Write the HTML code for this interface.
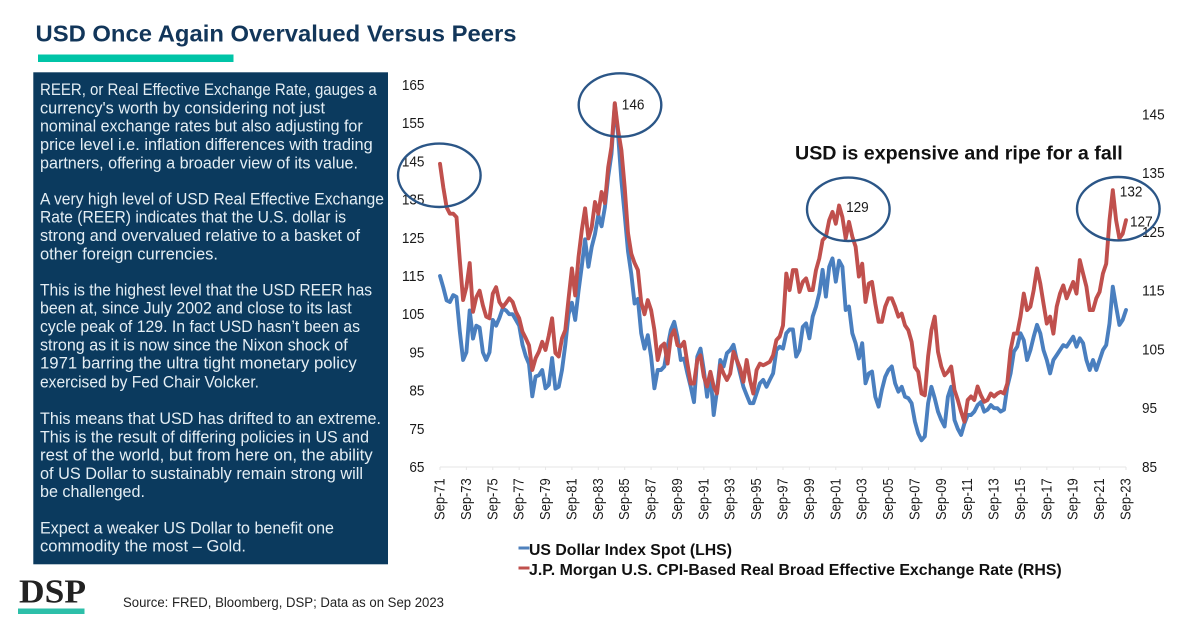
<!DOCTYPE html>
<html lang="en">
<head>
<meta charset="utf-8">
<title>USD Once Again Overvalued Versus Peers</title>
<style>
html,body{margin:0;padding:0;background:#fff;}
svg{display:block;font-family:"Liberation Sans",sans-serif;}
.p{font-size:17px;fill:#e4eef4;}
.t{font-size:14.5px;fill:#1a1a1a;}
.lg{font-size:16px;font-weight:bold;fill:#111;}
</style>
</head>
<body>
<svg id="slide" xmlns="http://www.w3.org/2000/svg" width="1200" height="628" viewBox="0 0 1200 628">
<rect width="1200" height="628" fill="#ffffff"/>
<text x="35.5" y="41.7" font-size="23.5" font-weight="bold" fill="#12365a" textLength="481" lengthAdjust="spacingAndGlyphs">USD Once Again Overvalued Versus Peers</text>
<rect x="38" y="54.5" width="195.500" height="7.500" fill="#00c4a7"/>
<rect x="33.300" y="72.300" width="354.700" height="492" fill="#0b3a5e"/>
<g>
<text class="p" x="40" y="95" textLength="336.700" lengthAdjust="spacingAndGlyphs">REER, or Real Effective Exchange Rate, gauges a</text>
<text class="p" x="40" y="113.300" textLength="285" lengthAdjust="spacingAndGlyphs">currency's worth by considering not just</text>
<text class="p" x="40" y="131.700" textLength="322.700" lengthAdjust="spacingAndGlyphs">nominal exchange rates but also adjusting for</text>
<text class="p" x="40" y="150" textLength="332.700" lengthAdjust="spacingAndGlyphs">price level i.e. inflation differences with trading</text>
<text class="p" x="40" y="168.300" textLength="318" lengthAdjust="spacingAndGlyphs">partners, offering a broader view of its value.</text>
<text class="p" x="40" y="204.500" textLength="344" lengthAdjust="spacingAndGlyphs">A very high level of USD Real Effective Exchange</text>
<text class="p" x="40" y="222.700" textLength="306" lengthAdjust="spacingAndGlyphs">Rate (REER) indicates that the U.S. dollar is</text>
<text class="p" x="40" y="241" textLength="320" lengthAdjust="spacingAndGlyphs">strong and overvalued relative to a basket of</text>
<text class="p" x="40" y="259.300" textLength="178" lengthAdjust="spacingAndGlyphs">other foreign currencies.</text>
<text class="p" x="40" y="295.300" textLength="332" lengthAdjust="spacingAndGlyphs">This is the highest level that the USD REER has</text>
<text class="p" x="40" y="313.700" textLength="311.700" lengthAdjust="spacingAndGlyphs">been at, since July 2002 and close to its last</text>
<text class="p" x="40" y="332" textLength="320" lengthAdjust="spacingAndGlyphs">cycle peak of 129. In fact USD hasn’t been as</text>
<text class="p" x="40" y="350.300" textLength="307.700" lengthAdjust="spacingAndGlyphs">strong as it is now since the Nixon shock of</text>
<text class="p" x="40" y="368.700" textLength="316.700" lengthAdjust="spacingAndGlyphs">1971 barring the ultra tight monetary policy</text>
<text class="p" x="40" y="387.300" textLength="219" lengthAdjust="spacingAndGlyphs">exercised by Fed Chair Volcker.</text>
<text class="p" x="40" y="424" textLength="341" lengthAdjust="spacingAndGlyphs">This means that USD has drifted to an extreme.</text>
<text class="p" x="40" y="442.300" textLength="329" lengthAdjust="spacingAndGlyphs">This is the result of differing policies in US and</text>
<text class="p" x="40" y="460.700" textLength="332.700" lengthAdjust="spacingAndGlyphs">rest of the world, but from here on, the ability</text>
<text class="p" x="40" y="479" textLength="323" lengthAdjust="spacingAndGlyphs">of US Dollar to sustainably remain strong will</text>
<text class="p" x="40" y="497" textLength="105" lengthAdjust="spacingAndGlyphs">be challenged.</text>
<text class="p" x="40" y="533.300" textLength="294" lengthAdjust="spacingAndGlyphs">Expect a weaker US Dollar to benefit one</text>
<text class="p" x="40" y="551.700" textLength="206" lengthAdjust="spacingAndGlyphs">commodity the most – Gold.</text>
</g>
<g id="chart"></g>
<text x="795" y="159.300" font-size="19" font-weight="bold" fill="#111" textLength="327.700" lengthAdjust="spacingAndGlyphs">USD is expensive and ripe for a fall</text>
<rect x="518.500" y="546.500" width="11" height="3" fill="#4f81bd"/>
<text class="lg" x="529" y="555" textLength="203" lengthAdjust="spacingAndGlyphs">US Dollar Index Spot (LHS)</text>
<rect x="518.500" y="566.500" width="11" height="3" fill="#c0504d"/>
<text class="lg" x="529" y="575" textLength="532.700" lengthAdjust="spacingAndGlyphs">J.P. Morgan U.S. CPI-Based Real Broad Effective Exchange Rate (RHS)</text>
<text x="19" y="602.700" font-family="'Liberation Serif',serif" font-size="34" font-weight="bold" fill="#222" textLength="67" lengthAdjust="spacingAndGlyphs">DSP</text>
<rect x="18" y="608.500" width="66.500" height="5.500" fill="#2dbfa9"/>
<text x="123" y="607" font-size="13.500" fill="#222" textLength="321" lengthAdjust="spacingAndGlyphs">Source: FRED, Bloomberg, DSP; Data as on Sep 2023</text>
</svg>
<script>
// Quarterly samples, Sep-71 to Sep-23
const dollarIndex = [
115,112,108.6,108.2,110,109.5,100.5,93,95,106,
98.6,102,101.5,95,93,95,103.5,102,104,106.5,
106,105,105,103.5,102,97,94,92,83.5,88.7,
89,90.4,85.6,86.5,93.5,85.5,86,90.4,97,105,
108,103.5,111,117.6,124.6,117.4,122.6,126,131,128,
133,141,147,160,152,140,131,121.5,115.5,107.8,
109,100,96,99.5,93.9,85.6,90.4,90.4,91.3,96.5,
100.9,103,99,93,93.4,89.5,86,82,93.9,96,
90.4,83.4,89.5,78.6,85,93,91.3,94.8,95.6,97,
93,89.5,86,83.8,81.7,81.7,84.3,86.9,87.8,86,
87.8,89.5,95.6,96.5,96,100,101,101,93.9,95.6,
101.7,102.6,98.7,104.4,107,110.5,116.6,109.6,117.4,119.6,
113.5,119,117.4,106.1,107,100,97.4,93.4,97.4,86.9,
89.5,90,83.4,80.8,85.2,88.6,90.4,91.3,86.9,84.7,
86,83.4,83,81.7,76.9,73.8,72,73,81.7,86,
83,79.5,77.3,75.6,83.4,86,77.3,75,73.4,76.4,
78.6,78.6,79.5,81.2,82,79.5,80,81.2,80.4,80.4,
79.5,80,86,89.5,95.2,96.5,100,98.2,93,95.6,
99.1,102.2,100,95.6,93,89.5,93,94.3,95.6,96.9,
96.5,97.8,99.1,96.5,98.7,97.4,93,90.4,93,90.4,
93,95.6,96.9,102.6,112.2,107,102.2,103.5,106.1
];
const reerIndex = [
136.6,132.6,129.2,128.1,128.1,127.5,120.2,113.4,115.6,119.7,
111.4,113.9,115,112.5,110.6,110.3,114.5,115.6,113.1,112.2,
112.9,113.7,113.1,111.4,110.3,108,106.9,105.7,101.5,103.5,
104.6,106.3,104.9,107.4,110.3,104.4,103.8,106.9,108.3,113.7,
118.8,114.2,120.7,125.3,129,123.9,125.8,130.1,128.1,131.8,
129.9,136,139.5,146.9,142.3,138.9,132.6,124.8,121.3,119.7,
118.5,113,111,113.4,111.7,108.3,103.2,105.5,106,102.6,
107.2,108.3,105.7,105.5,106.3,102.6,99.2,99.2,103.2,104,
100.4,98.7,101.2,98.7,97.5,102.3,100.9,99.8,100.9,104.6,
103.2,101.8,99.5,103.2,99.8,97.5,101.5,102.6,102.3,102.6,
102.9,104,106.6,107.2,109.1,117.9,115.1,118.5,118.5,114.8,
116.5,117.1,115.1,115.1,118.5,120.5,123.6,124.2,127,128.4,
126.4,129.5,127.5,123.9,126.7,124.2,122.5,117.4,119.6,113.1,
116.2,116.5,112.8,109.7,109.7,112.3,113.7,113.7,112.3,110.6,
111.1,109.1,108.3,106.3,102,101.2,97.5,97.2,103.8,108.3,
110.6,104.6,102.1,100.6,101.2,102.1,98.1,96.4,94.4,92.7,
96.4,97,96.4,98.7,97.2,96.1,96.4,97.5,97,97.5,
97.8,97.5,99.2,104.9,107.7,107.7,110.6,114.5,111.7,112.3,
115.1,118.8,116.2,112.8,109.4,110.6,107.7,112.3,114.5,115.9,
113.7,115.1,116.5,114.5,120.2,117.9,115.7,111.7,111.7,113.7,
114.8,117.9,119.6,127,132.1,127,123.9,124.7,127
];
const xTickLabels = ["Sep-71","Sep-73","Sep-75","Sep-77","Sep-79","Sep-81","Sep-83","Sep-85","Sep-87","Sep-89","Sep-91","Sep-93","Sep-95","Sep-97","Sep-99","Sep-01","Sep-03","Sep-05","Sep-07","Sep-09","Sep-11","Sep-13","Sep-15","Sep-17","Sep-19","Sep-21","Sep-23"];
const leftTicks = [65,75,85,95,105,115,125,135,145,155,165];
const rightTicks = [85,95,105,115,125,135,145];
const calloutSampleIndex = [53,121,204,208];
const calloutLabels = ["146","129","132","127"];

const NS = "http://www.w3.org/2000/svg";
const chart = document.getElementById("chart");
const plot = {left:440,right:1126,top:85,bottom:467};
const samplesPerTick = 8;
const digitWidth = 7.560;
function xAt(i){return plot.left+i*(plot.right-plot.left)/(dollarIndex.length-1);}
function yLeft(v){return plot.bottom-(v-65)*(plot.bottom-plot.top)/100;}
function yRight(v){return plot.bottom-(v-85)*(plot.bottom-plot.top)/65;}
function mk(tag,attrs,text){
  const el=document.createElementNS(NS,tag);
  for(const k in attrs){el.setAttribute(k,attrs[k]);}
  if(text!==undefined){el.textContent=text;}
  chart.appendChild(el);
  return el;
}
let el = mk("line",{x1:plot.left,x2:plot.right,y1:plot.bottom,y2:plot.bottom,stroke:"#e6e6e6","stroke-width":1});



xTickLabels.forEach(function(label,k){
  const x=xAt(k*samplesPerTick);
  const tick=mk("line",{x1:x,x2:x,y1:plot.bottom,y2:plot.bottom+3,stroke:"#e6e6e6","stroke-width":1});
  
  
  const t=mk("text",{class:"t",transform:"translate("+(x+4.5)+",520) rotate(-90)",textLength:41.7,lengthAdjust:"spacingAndGlyphs"},label);
  
  
});
leftTicks.forEach(function(v){
  const s=String(v);
  const w=digitWidth*s.length;
  const t=mk("text",{class:"t",x:424.5-w,y:yLeft(v)+5,textLength:w,lengthAdjust:"spacingAndGlyphs"},s);
  
  
});
rightTicks.forEach(function(v){
  const s=String(v);
  const t=mk("text",{class:"t",x:1142,y:yRight(v)+5,textLength:digitWidth*s.length,lengthAdjust:"spacingAndGlyphs"},s);
  
  
});
function pathOf(values,scale){
  return values.map(function(v,i){return (i?"L":"M")+xAt(i).toFixed(1)+" "+scale(v).toFixed(1);}).join(" ");
}
const blueLine = mk("path",{d:pathOf(dollarIndex,yLeft),fill:"none",stroke:"#4a7fbf","stroke-width":3.9,"stroke-linejoin":"round","stroke-linecap":"round"});


const redLine = mk("path",{d:pathOf(reerIndex,yRight),fill:"none",stroke:"#c0504d","stroke-width":3.9,"stroke-linejoin":"round","stroke-linecap":"round"});



calloutSampleIndex.forEach(function(idx,k){
  const s=calloutLabels[k];
  const dx = k===3 ? 4 : 7;
  const t=mk("text",{class:"t",x:xAt(idx)+dx,y:yRight(reerIndex[idx])+6.5,textLength:digitWidth*s.length,lengthAdjust:"spacingAndGlyphs"},s);
  
  
});
[[439.3,175.3],[620,105],[848.3,209.3],[1118.3,208.7]].forEach(function(c){
  const e=mk("ellipse",{cx:c[0],cy:c[1],rx:41.3,ry:31.7,fill:"none",stroke:"#2b5687","stroke-width":2.4});
  
  
});
</script>
</body>
</html>
